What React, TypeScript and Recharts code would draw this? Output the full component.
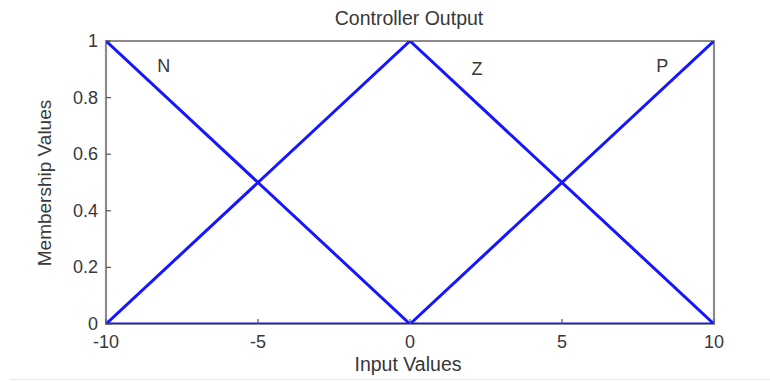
import React from 'react';
import { LineChart, Line, XAxis, YAxis, ReferenceArea, ReferenceDot } from 'recharts';

// Axis ticks
const inputTicks = [-10, -5, 0, 5, 10];
const membershipTicks = [0, 0.2, 0.4, 0.6, 0.8, 1];

// Triangular membership functions of the controller output
const negativeSet = [
  { input: -10, value: 1 },
  { input: 0, value: 0 },
  { input: 10, value: 0 },
];
const zeroSet = [
  { input: -10, value: 0 },
  { input: 0, value: 1 },
  { input: 10, value: 0 },
];
const positiveSet = [
  { input: -10, value: 0 },
  { input: 0, value: 0 },
  { input: 10, value: 1 },
];

// Set names written inside the plot (data coordinates)
const setNames = [
  { name: 'N', input: -8.1, value: 0.91 },
  { name: 'Z', input: 2.2, value: 0.9 },
  { name: 'P', input: 8.3, value: 0.91 },
];

const FONT = '"Liberation Sans", Arial, Helvetica, sans-serif';
const TEXT = '#383838';
const FRAME = '#8c8c8c';
const TICK = '#555555';
const BLUE = '#1616ff';
const FS = 18;

const W = 770;
const H = 381;

function BottomTick(props: any) {
  const { x, y, payload } = props;
  return (
    <g>
      <line x1={x} x2={x} y1={y} y2={y - 5} stroke={TICK} strokeWidth={1.2} />
      <text x={x} y={y + 24} textAnchor="middle" fontFamily={FONT} fontSize={FS} fill={TEXT}>
        {payload.value}
      </text>
    </g>
  );
}

function TopTick(props: any) {
  const { x, y } = props;
  return <line x1={x} x2={x} y1={y} y2={y + 5} stroke={TICK} strokeWidth={1.2} />;
}

function LeftTick(props: any) {
  const { x, y, payload } = props;
  return (
    <g>
      <line x1={x} x2={x + 5} y1={y} y2={y} stroke={TICK} strokeWidth={1.2} />
      <text x={x - 8} y={y + 6} textAnchor="end" fontFamily={FONT} fontSize={FS} fill={TEXT}>
        {payload.value}
      </text>
    </g>
  );
}

function RightTick(props: any) {
  const { x, y } = props;
  return <line x1={x} x2={x - 5} y1={y} y2={y} stroke={TICK} strokeWidth={1.2} />;
}

function SetName(props: any) {
  const { viewBox, value } = props;
  const cx = viewBox.x + (viewBox.width || 0) / 2;
  const cy = viewBox.y + (viewBox.height || 0) / 2;
  return (
    <text x={cx} y={cy + 6} textAnchor="middle" fontFamily={FONT} fontSize={FS} fill={TEXT}>
      {value}
    </text>
  );
}

export default function App() {
  return (
    <div style={{ position: 'absolute', left: 0, top: 0, width: W, height: H, background: '#fff' }}>
      <LineChart
        width={W}
        height={H}
        margin={{ top: 41, right: 56, bottom: 27, left: 46 }}
      >
        <XAxis
          dataKey="input"
          type="number"
          domain={[-10, 10]}
          ticks={inputTicks}
          allowDataOverflow
          axisLine={false}
          tickLine={false}
          tickSize={0}
          tickMargin={0}
          height={30}
          tick={<BottomTick />}
        />
        <XAxis
          xAxisId="top"
          orientation="top"
          type="number"
          domain={[-10, 10]}
          ticks={inputTicks}
          allowDataOverflow
          axisLine={false}
          tickLine={false}
          tickSize={0}
          tickMargin={0}
          height={0}
          tick={<TopTick />}
        />
        <YAxis
          type="number"
          domain={[0, 1]}
          ticks={membershipTicks}
          allowDataOverflow
          axisLine={false}
          tickLine={false}
          tickSize={0}
          tickMargin={0}
          width={60}
          tick={<LeftTick />}
        />
        <YAxis
          yAxisId="right"
          orientation="right"
          type="number"
          domain={[0, 1]}
          ticks={membershipTicks}
          allowDataOverflow
          axisLine={false}
          tickLine={false}
          tickSize={0}
          tickMargin={0}
          width={0}
          tick={<RightTick />}
        />
        <ReferenceArea
          x1={-10}
          x2={10}
          y1={0}
          y2={1}
          fill="none"
          fillOpacity={0}
          stroke={FRAME}
          strokeWidth={2.2}
          ifOverflow="visible"
        />
        <Line
          data={negativeSet}
          dataKey="value"
          stroke={BLUE}
          strokeWidth={3}
          dot={false}
          isAnimationActive={false}
          type="linear"
        />
        <Line
          data={zeroSet}
          dataKey="value"
          stroke={BLUE}
          strokeWidth={3}
          dot={false}
          isAnimationActive={false}
          type="linear"
        />
        <Line
          data={positiveSet}
          dataKey="value"
          stroke={BLUE}
          strokeWidth={3}
          dot={false}
          isAnimationActive={false}
          type="linear"
        />
        {setNames.map((s) => (
          <ReferenceDot
            key={s.name}
            x={s.input}
            y={s.value}
            r={0}
            fill="none"
            stroke="none"
            label={<SetName value={s.name} />}
          />
        ))}
      </LineChart>
      <svg
        width={W}
        height={H}
        style={{ position: 'absolute', left: 0, top: 0, pointerEvents: 'none' }}
      >
        <text x={409} y={25} textAnchor="middle" fontFamily={FONT} fontSize={19.5} fill={TEXT}>
          Controller Output
        </text>
        <text x={408} y={371} textAnchor="middle" fontFamily={FONT} fontSize={19.5} fill={TEXT}>
          Input Values
        </text>
        <text
          x={51}
          y={183}
          textAnchor="middle"
          fontFamily={FONT}
          fontSize={19}
          fill={TEXT}
          transform="rotate(-90 51 183)"
        >
          Membership Values
        </text>
        <line x1={10} x2={W} y1={379.5} y2={379.5} stroke="#e6e6e6" strokeWidth={1} />
      </svg>
    </div>
  );
}
